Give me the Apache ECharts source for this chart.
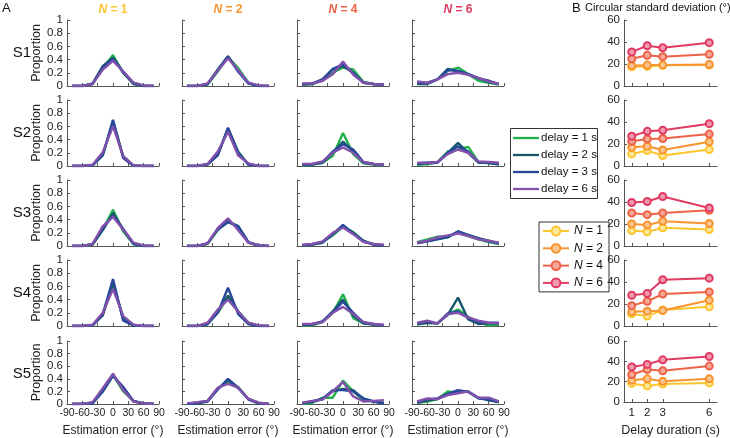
<!DOCTYPE html>
<html><head><meta charset="utf-8">
<script src="https://cdn.jsdelivr.net/npm/echarts@6/dist/echarts.min.js"></script>
<style>html,body{margin:0;padding:0;background:#fff}#c{width:730px;height:438px}</style>
</head><body><div id="c"></div>
<script>
// ---- data ----
const errBins = [-80,-60,-40,-20,0,20,40,60,80];
const errTicks = [-90,-60,-30,0,30,60,90];
const delayNames = ['delay = 1 s','delay = 2 s','delay = 3 s','delay = 6 s'];
const setSizes = ['N = 1','N = 2','N = 4','N = 6'];
const subjects = ['S1','S2','S3','S4','S5'];
const delays = [1,2,3,6];
// each: [delay1, delay2, delay3, delay6] proportions over errBins
const S1_N1 = [[0,0,0.03,0.27,0.47,0.2,0.04,0,0],[0,0,0.04,0.3,0.43,0.2,0.03,0,0],[0,0,0.03,0.28,0.42,0.22,0.05,0,0],[0,0,0.03,0.25,0.38,0.22,0.05,0.01,0]];
const S1_N2 = [[0,0,0.02,0.22,0.44,0.27,0.05,0,0],[0,0,0.03,0.25,0.45,0.22,0.04,0,0],[0,0,0.03,0.24,0.45,0.22,0.04,0,0],[0,0,0.04,0.23,0.42,0.24,0.05,0.01,0]];
const S1_N4 = [[0.02,0.03,0.08,0.2,0.28,0.25,0.06,0.03,0.02],[0.03,0.03,0.1,0.25,0.3,0.2,0.05,0.03,0.02],[0.02,0.04,0.1,0.26,0.33,0.2,0.05,0.03,0.02],[0.04,0.04,0.08,0.18,0.37,0.17,0.05,0.03,0.02]];
const S1_N6 = [[0.04,0.05,0.1,0.23,0.28,0.18,0.08,0.05,0.02],[0.03,0.03,0.1,0.26,0.22,0.18,0.12,0.06,0.03],[0.05,0.04,0.1,0.24,0.23,0.18,0.12,0.08,0.03],[0.07,0.05,0.1,0.18,0.2,0.17,0.12,0.07,0.03]];
const S2_N1 = [[0,0,0.01,0.18,0.65,0.15,0,0,0],[0,0,0.01,0.16,0.68,0.14,0.01,0,0],[0,0,0.01,0.17,0.7,0.12,0,0,0],[0,0,0.02,0.21,0.6,0.15,0.01,0,0]];
const S2_N2 = [[0,0,0.02,0.18,0.55,0.22,0.02,0,0],[0,0,0.02,0.17,0.57,0.2,0.03,0,0],[0,0,0.03,0.16,0.58,0.2,0.02,0,0],[0,0,0.03,0.22,0.52,0.16,0.04,0,0]];
const S2_N4 = [[0.01,0.02,0.05,0.15,0.5,0.18,0.04,0.02,0.01],[0.02,0.02,0.05,0.2,0.37,0.22,0.05,0.03,0.02],[0.02,0.03,0.06,0.22,0.33,0.25,0.06,0.03,0.02],[0.03,0.03,0.07,0.2,0.28,0.2,0.06,0.03,0.02]];
const S2_N6 = [[0.02,0.03,0.06,0.22,0.25,0.29,0.06,0.04,0.03],[0.03,0.04,0.05,0.2,0.35,0.2,0.05,0.05,0.02],[0.04,0.05,0.06,0.2,0.3,0.22,0.06,0.05,0.04],[0.05,0.05,0.06,0.18,0.25,0.2,0.07,0.06,0.05]];
const S3_N1 = [[0,0,0.02,0.25,0.55,0.22,0.03,0,0],[0,0,0.02,0.24,0.5,0.25,0.03,0,0],[0,0,0.03,0.27,0.46,0.26,0.04,0,0],[0,0,0.03,0.3,0.44,0.25,0.05,0.01,0]];
const S3_N2 = [[0,0,0.03,0.24,0.38,0.3,0.05,0.01,0],[0,0,0.04,0.26,0.37,0.28,0.05,0,0],[0,0,0.04,0.25,0.36,0.3,0.06,0.01,0],[0,0,0.04,0.27,0.42,0.24,0.05,0.01,0]];
const S3_N4 = [[0.01,0.02,0.06,0.16,0.29,0.21,0.07,0.03,0.01],[0.01,0.02,0.05,0.18,0.3,0.2,0.08,0.02,0.01],[0.01,0.03,0.06,0.18,0.32,0.19,0.07,0.02,0.01],[0.02,0.03,0.07,0.2,0.28,0.18,0.06,0.03,0.02]];
const S3_N6 = [[0.06,0.1,0.14,0.15,0.2,0.15,0.1,0.06,0.03],[0.04,0.07,0.1,0.13,0.22,0.17,0.12,0.08,0.04],[0.05,0.07,0.11,0.14,0.22,0.16,0.11,0.07,0.04],[0.05,0.08,0.13,0.16,0.19,0.15,0.1,0.08,0.05]];
const S4_N1 = [[0,0,0.01,0.18,0.62,0.14,0.01,0,0],[0,0,0.01,0.16,0.66,0.1,0.01,0,0],[0,0,0.01,0.18,0.71,0.08,0.01,0,0],[0,0,0.02,0.2,0.56,0.15,0.02,0,0]];
const S4_N2 = [[0,0,0.03,0.2,0.44,0.22,0.05,0,0],[0,0,0.03,0.22,0.46,0.22,0.04,0,0],[0,0,0.03,0.2,0.58,0.18,0.03,0,0],[0,0,0.05,0.25,0.4,0.22,0.05,0.01,0]];
const S4_N4 = [[0.01,0.01,0.06,0.2,0.48,0.12,0.04,0.02,0.01],[0.02,0.02,0.07,0.22,0.4,0.16,0.04,0.02,0.01],[0.02,0.03,0.07,0.21,0.37,0.2,0.05,0.03,0.01],[0.03,0.03,0.06,0.2,0.29,0.18,0.06,0.03,0.02]];
const S4_N6 = [[0.02,0.05,0.04,0.18,0.25,0.14,0.05,0.01,0.02],[0.03,0.05,0.04,0.17,0.43,0.1,0.03,0.04,0.04],[0.04,0.06,0.04,0.19,0.22,0.12,0.06,0.05,0.05],[0.05,0.08,0.04,0.18,0.2,0.13,0.08,0.05,0.04]];
const S5_N1 = [[0,0,0.02,0.23,0.46,0.2,0.05,0.01,0],[0,0,0.02,0.2,0.45,0.26,0.04,0.01,0],[0,0,0.01,0.2,0.45,0.27,0.05,0.01,0],[0,0,0.03,0.25,0.48,0.22,0.04,0.01,0]];
const S5_N2 = [[0,0.02,0.04,0.25,0.35,0.27,0.08,0.02,0],[0,0.02,0.05,0.24,0.38,0.25,0.08,0.01,0],[0,0.01,0.04,0.23,0.4,0.26,0.07,0.01,0],[0.01,0.03,0.05,0.26,0.32,0.26,0.08,0.02,0]];
const S5_N4 = [[0,0.02,0.1,0.1,0.37,0.2,0.06,0.04,0.02],[0.01,0.04,0.08,0.2,0.24,0.22,0.08,0.04,0.01],[0.01,0.04,0.08,0.22,0.22,0.2,0.09,0.04,0.01],[0.02,0.05,0.07,0.2,0.35,0.12,0.04,0.05,0.06]];
const S5_N6 = [[0.02,0.04,0.08,0.2,0.18,0.2,0.09,0.07,0.03],[0.02,0.06,0.08,0.15,0.2,0.2,0.1,0.06,0.03],[0.03,0.07,0.09,0.16,0.22,0.19,0.09,0.07,0.03],[0.04,0.09,0.08,0.14,0.17,0.2,0.1,0.1,0.04]];
// circular SD (deg): [N1, N2, N4, N6] over delays
const CSD_S1 = [[17.5,17.8,18.8,19],[18.5,19,19,19.5],[24.8,27.9,26.7,28.8],[31,36.6,34.8,39.4]];
const CSD_S2 = [[11,14,9.5,15],[17,18,14.5,22],[22.5,24.5,25,29],[27,31.5,32.5,38.5]];
const CSD_S3 = [[14,13,16.5,15],[20,19,22.5,20.5],[30,28.5,30,32.5],[39.5,40.5,45,34.5]];
const CSD_S4 = [[11,9,14.5,17.5],[13,13.5,14,23.5],[18.5,22.5,29,31],[28,29.5,42,43.5]];
const CSD_S5 = [[18.3,15.8,17.6,18.8],[21.3,22.8,20.3,22.8],[27,32,30.7,35.3],[34.5,37,41.5,44.7]];

const panelsA = [[S1_N1,S1_N2,S1_N4,S1_N6],[S2_N1,S2_N2,S2_N4,S2_N6],[S3_N1,S3_N2,S3_N4,S3_N6],[S4_N1,S4_N2,S4_N4,S4_N6],[S5_N1,S5_N2,S5_N4,S5_N6]];
const panelsB = [CSD_S1,CSD_S2,CSD_S3,CSD_S4,CSD_S5];

// ---- styles ----
const FONT = 'Liberation Sans, Arial, sans-serif';
const delayColors = ['#22b04b','#17596a','#27489a','#8250ad'];
const nColors = ['#fcc42d','#f7942f','#ee6245','#e13a62'];
const nFill = ['#fde79a','#fbc58f','#f6a896','#f09ab0'];
const colLeft = [67,182,297,412];
const rowTop = [20,100,180,260,341];
const W = 92, H = 66;
const axisCol = '#555';

const grid = [], xAxis = [], yAxis = [], series = [];
let gi = 0;
for (let r = 0; r < 5; r++) {
  for (let c = 0; c < 4; c++) {
    grid.push({left: colLeft[c], top: rowTop[r], width: W, height: H});
    const bottom = r === 4;
    xAxis.push({type:'value', gridIndex: gi, min:-90, max:90, interval:30,
      axisLine:{onZero:false, lineStyle:{color:axisCol}}, splitLine:{show:false},
      axisTick:{show:true, inside:true, length:3, lineStyle:{color:axisCol}},
      axisLabel:{show:bottom, showMinLabel:true, showMaxLabel:true, hideOverlap:false, color:'#222', fontSize:10.5, fontFamily:FONT, margin:4},
      name: bottom ? 'Estimation error (°)' : '', nameLocation:'middle', nameGap:21,
      nameTextStyle:{color:'#222', fontSize:12, fontFamily:FONT}});
    yAxis.push({type:'value', gridIndex: gi, min:0, max:1, interval:0.2,
      axisLine:{show:true, onZero:false, lineStyle:{color:axisCol}}, splitLine:{show:false},
      axisTick:{show:true, inside:true, length:3, lineStyle:{color:axisCol}},
      axisLabel:{show:c===0, color:'#222', fontSize:11.5, fontFamily:FONT, margin:4},
      name: c===0 ? 'Proportion' : '', nameLocation:'middle', nameGap:22,
      nameTextStyle:{color:'#222', fontSize:12.5, fontFamily:FONT}});
    const sets = panelsA[r][c];
    for (let d = 0; d < 4; d++) {
      series.push({type:'line', name: delayNames[d], xAxisIndex: gi, yAxisIndex: gi,
        data: errBins.map((x,i)=>[x, sets[d][i]]), symbol:'none', showSymbol:false,
        lineStyle:{width:2.4, color: delayColors[d]}, itemStyle:{color: delayColors[d]},
        z: 2 + d, silent:true});
    }
    gi++;
  }
}
for (let r = 0; r < 5; r++) {
  grid.push({left: 624, top: rowTop[r], width: 93, height: H});
  const bottom = r === 4;
  xAxis.push({type:'value', gridIndex: gi, min:0.5, max:6.5,
    axisLine:{onZero:false, lineStyle:{color:axisCol}}, splitLine:{show:false},
    axisTick:{show:true, inside:true, length:3, customValues: delays, lineStyle:{color:axisCol}},
    axisLabel:{show:bottom, customValues: delays, color:'#222', fontSize:11.5, fontFamily:FONT, margin:5},
    name: bottom ? 'Delay duration (s)' : '', nameLocation:'middle', nameGap:22,
    nameTextStyle:{color:'#222', fontSize:12.5, fontFamily:FONT}});
  yAxis.push({type:'value', gridIndex: gi, min:0, max:60, interval:20,
    axisLine:{show:true, onZero:false, lineStyle:{color:axisCol}}, splitLine:{show:false},
    axisTick:{show:true, inside:true, length:3, lineStyle:{color:axisCol}},
    axisLabel:{color:'#222', fontSize:11.5, fontFamily:FONT, margin:4}});
  const sets = panelsB[r];
  for (let n = 0; n < 4; n++) {
    series.push({type:'line', name: setSizes[n], xAxisIndex: gi, yAxisIndex: gi,
      data: delays.map((x,i)=>[x, sets[n][i]]), symbol:'circle', symbolSize:7, showSymbol:true,
      lineStyle:{width:2, color: nColors[n]},
      itemStyle:{color: nFill[n], borderColor: nColors[n], borderWidth:2},
      z: 2 + n, silent:true});
  }
  gi++;
}

const graphic = [];
const txt = (x,y,text,opts) => graphic.push({type:'text', x, y, z:10, style:Object.assign({text, fontFamily:FONT, fill:'#111', fontSize:12, textVerticalAlign:'middle'}, opts||{})});
txt(2,8,'A',{fontSize:13});
txt(572,8,'B',{fontSize:13});
txt(585,8,'Circular standard deviation (°)',{fontSize:11});
for (let r = 0; r < 5; r++) txt(22, rowTop[r]+33, subjects[r], {fontSize:15, textAlign:'center'});
const nLabels = ['1','2','4','6'];
for (let c = 0; c < 4; c++) {
  graphic.push({type:'text', x: colLeft[c]+W/2, y: 10, style:{
    text: '{i|N} = ' + nLabels[c], textAlign:'center', textVerticalAlign:'middle',
    fontFamily:FONT, fontSize:12, fontWeight:'bold', fill: nColors[c],
    rich:{i:{fontStyle:'italic', fontWeight:'bold', fontSize:12, fontFamily:FONT, fill:nColors[c]}}}});
}
// delay legend (line-only keys)
graphic.push({type:'rect', shape:{x:510.5, y:128.5, width:87, height:70}, style:{fill:'#fff', stroke:'#333', lineWidth:1}, z:10});
for (let d = 0; d < 4; d++) {
  const y = 138 + d*17;
  graphic.push({type:'line', shape:{x1:513, y1:y, x2:539, y2:y}, style:{stroke:delayColors[d], lineWidth:2.3}, z:11});
  txt(541, y, delayNames[d], {fontSize:11.5});
}

const option = {
  animation:false,
  grid, xAxis, yAxis, series, graphic,
  legend:[
    {data: setSizes, orient:'vertical', left:539, top:222,
     borderColor:'#333', borderWidth:1, padding:[3,6,3,3], itemGap:5.3, itemWidth:26, itemHeight:11,
     selectedMode:false,
     formatter: name => '{i|N}' + name.slice(1),
     textStyle:{fontSize:12, fontFamily:FONT, color:'#111', rich:{i:{fontStyle:'italic', fontSize:12, fontFamily:FONT}}}}
  ]
};
const chart = echarts.init(document.getElementById('c'), null, {renderer:'canvas'});
chart.setOption(option);
</script></body></html>
